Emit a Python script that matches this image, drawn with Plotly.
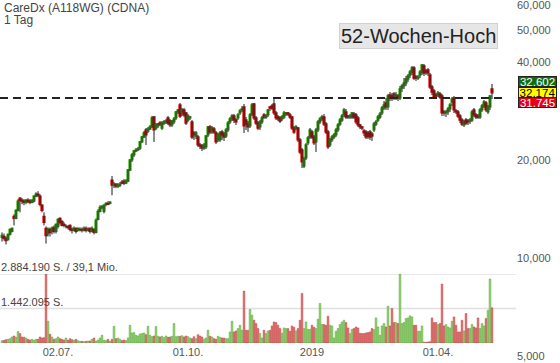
import math
import pandas as pd
import plotly.graph_objects as go

# ---------------- data ----------------
holidays = ['2018-12-24', '2018-12-25', '2018-12-26', '2018-12-31', '2019-01-01',
            '2019-04-19', '2019-04-22', '2019-05-01']

open_ = [11560, 11640, 11480, 11390, 11810, 12060, 13420, 13230, 14010, 15260,
         15040, 14940, 14830, 15040, 14940, 14830, 14940, 15480, 15700, 15480,
         14520, 13420, 12320, 11890, 12240, 12060, 12410, 12060, 12500, 13230,
         12950, 12680, 12500, 12500, 12590, 12240, 12150, 12320, 12150, 12240,
         12240, 12150, 12320, 12150, 12320, 12060, 12240, 11980, 13140, 13910,
         14310, 13910, 14620, 14720, 14720, 17350, 16740, 16860, 16620, 16740,
         17100, 17220, 16980, 17220, 18630, 20000, 20720, 21310, 21470, 21770,
         22720, 23530, 24730, 24550, 24900, 25260, 27110, 25080, 25440, 25980,
         25080, 25980, 26170, 26920, 26350, 25620, 26170, 26920, 28090, 29510,
         28090, 28490, 27890, 26540, 26920, 26170, 24210, 23700, 23530, 22240,
         22080, 21770, 21930, 23870, 25260, 24550, 24900, 24210, 23040, 23040,
         24380, 24040, 23700, 24730, 26170, 26730, 27300, 26540, 26920, 27890,
         28490, 29100, 26540, 25800, 25440, 27690, 29720, 26920, 25980, 25260,
         26170, 27500, 27110, 27500, 29100, 29300, 29720, 27890, 27110, 26920,
         26730, 27110, 27690, 27890, 27500, 27110, 25080, 25080, 25080, 23040,
         21470, 19160, 20290, 22560, 23530, 24380, 23530, 22720, 24730, 26170,
         26730, 27110, 25800, 24380, 22240, 23040, 23530, 23870, 24730, 25800,
         26540, 27500, 28090, 27300, 27110, 27110, 27690, 27500, 26920, 25620,
         25260, 24550, 24380, 24210, 24380, 24040, 24730, 25800, 26540, 27110,
         27890, 28890, 29930, 29100, 31680, 31450, 31900, 31230, 31450, 31010,
         33280, 33760, 34480, 35470, 36490, 37270, 38340, 35980, 35720, 36490,
         37270, 38890, 37540, 37800, 36490, 33520, 32580, 31680, 31680, 31900,
         31450, 28090, 27890, 28090, 28690, 30140, 31010, 28290, 28090, 27300,
         26540, 25620, 26540, 26350, 26350, 26540, 28490, 27500, 27300, 27110,
         28490, 29300, 29930, 28090, 29100, 33050]

high = [11980, 11890, 11640, 11890, 12320, 12410, 13620, 14110, 15150, 15370,
        15260, 15150, 15150, 15260, 15150, 15150, 15590, 15920, 16040, 15700,
        14620, 13810, 12500, 12410, 12410, 12500, 12590, 12770, 13230, 13330,
        13050, 12860, 12680, 12590, 12680, 12410, 12500, 12410, 12410, 12410,
        12410, 12500, 12500, 12410, 12410, 12500, 12320, 13230, 14110, 14520,
        14520, 14620, 14830, 14940, 14940, 17850, 17100, 16980, 16980, 17100,
        17350, 17470, 17470, 18760, 20140, 21020, 21470, 21770, 21930, 22880,
        23700, 24550, 25080, 25260, 25620, 27300, 27300, 25980, 25980, 26350,
        26350, 26540, 26730, 27300, 26730, 26540, 27110, 28290, 28690, 29930,
        28890, 28890, 28090, 27690, 27300, 26540, 24550, 24550, 23870, 22560,
        22400, 22560, 23870, 25440, 25620, 25440, 25260, 24550, 24210, 24550,
        24730, 24380, 25080, 26350, 27110, 27690, 27690, 26920, 27890, 28690,
        29300, 29720, 27110, 26350, 27890, 29930, 29930, 27300, 26350, 26540,
        27300, 27890, 27690, 28690, 29300, 29720, 31010, 28290, 27500, 27300,
        27500, 28290, 28090, 28090, 27890, 27300, 25440, 25620, 25260, 23370,
        21770, 20430, 22560, 23700, 25080, 24730, 23870, 25080, 26540, 27110,
        27500, 27690, 26170, 24730, 23370, 23870, 24210, 25080, 25980, 26920,
        27690, 28890, 28690, 27500, 27690, 28090, 28090, 27890, 27300, 25800,
        25440, 24900, 24730, 24550, 24730, 24380, 26170, 26540, 27500, 28090,
        29300, 30360, 31010, 31900, 32350, 32130, 32350, 32350, 31900, 33760,
        34240, 35720, 36230, 36750, 37800, 38890, 38890, 36490, 36490, 37800,
        39440, 39440, 38070, 38340, 37010, 34000, 33050, 32130, 32580, 32350,
        31900, 28490, 28490, 29100, 29930, 31230, 31450, 28690, 28490, 27690,
        26920, 26540, 26920, 26730, 26920, 28490, 28890, 27890, 27690, 28890,
        29720, 30570, 30360, 29510, 31680, 34240]

low = [11230, 11310, 11000, 11310, 11720, 11980, 12590, 13140, 13910, 13810,
       14620, 14520, 14620, 14720, 14620, 14720, 14830, 15370, 15370, 14410,
       13810, 12590, 11070, 11640, 11640, 11810, 11890, 11890, 12320, 12680,
       12500, 12410, 12320, 12240, 12060, 11890, 12060, 11890, 12060, 12060,
       11980, 12060, 11980, 12060, 11890, 11980, 11810, 11890, 13050, 13810,
       14110, 13710, 14410, 14520, 14620, 15590, 16390, 16390, 16390, 16500,
       16860, 16740, 16860, 17100, 18490, 19720, 20430, 21160, 21310, 21470,
       22560, 23370, 22240, 24210, 24730, 25080, 22720, 24730, 25080, 25440,
       24730, 25620, 25800, 25620, 25260, 25260, 25800, 26540, 27690, 26920,
       27300, 27110, 25620, 26170, 26540, 23200, 23040, 23200, 21930, 21620,
       21310, 21470, 21620, 23530, 24040, 24040, 24040, 22400, 22720, 22720,
       23040, 22880, 23370, 24380, 25800, 26350, 25980, 25620, 26540, 27500,
       28090, 24210, 24730, 24380, 25080, 27300, 26540, 25620, 24730, 24730,
       25800, 26730, 26730, 27110, 28290, 28490, 27500, 26540, 26350, 25980,
       26350, 26730, 27300, 27300, 26730, 24730, 24040, 24730, 22720, 20870,
       18890, 18890, 20000, 22240, 23200, 23200, 22240, 21160, 24380, 25800,
       26350, 25440, 24040, 21620, 21930, 22720, 23200, 23530, 24380, 25440,
       26170, 27110, 26730, 26730, 26730, 26730, 26730, 25800, 25260, 24900,
       24730, 23700, 23200, 23200, 23040, 22880, 24380, 25440, 26170, 26730,
       27500, 28490, 28490, 28490, 30360, 30360, 30570, 30570, 30360, 30570,
       32350, 33050, 33760, 34730, 35720, 36490, 35220, 34970, 35220, 35720,
       36490, 36230, 36490, 36230, 33050, 31680, 30790, 31010, 31230, 30790,
       27300, 27300, 27110, 27500, 28090, 29300, 27890, 27690, 26920, 25980,
       25440, 25260, 25620, 25620, 25800, 26170, 27110, 26730, 26730, 26730,
       28090, 28890, 28090, 27690, 28490, 30790]

close = [11720, 11480, 11310, 11810, 12240, 12320, 13230, 14010, 14940, 15040,
         14940, 14830, 15040, 14940, 14830, 15040, 15480, 15700, 15590, 14620,
         14010, 12860, 11720, 12240, 11980, 12320, 12060, 12680, 13140, 12860,
         12590, 12590, 12500, 12410, 12240, 12150, 12320, 12060, 12320, 12240,
         12150, 12320, 12150, 12240, 12060, 12320, 11980, 13050, 13910, 14310,
         14410, 14520, 14720, 14620, 14830, 16740, 16860, 16620, 16740, 16860,
         16980, 16980, 17220, 18630, 20000, 20720, 21310, 21470, 21620, 22720,
         23530, 24210, 23870, 24900, 25260, 26920, 24730, 25620, 25800, 25800,
         25980, 26170, 26350, 25980, 25620, 26350, 26730, 28090, 28490, 27300,
         28490, 27500, 25980, 27300, 27110, 23530, 23870, 24210, 22240, 22080,
         21770, 22240, 23700, 25260, 24380, 25080, 24380, 22720, 23870, 24210,
         23870, 23530, 24730, 25980, 26730, 27300, 26540, 26170, 27500, 28290,
         28690, 25440, 25800, 25260, 27500, 29510, 26920, 25980, 25080, 26170,
         26920, 27110, 27300, 28490, 28890, 28890, 27890, 26920, 26730, 26350,
         27110, 27890, 27890, 27690, 27110, 25080, 24380, 25260, 23040, 21160,
         19720, 20140, 22240, 23370, 24730, 23530, 22560, 24730, 26170, 26730,
         27110, 25800, 24380, 21930, 23040, 23530, 23870, 24730, 25620, 26540,
         27300, 28490, 27110, 27110, 27300, 27890, 27110, 26170, 25620, 25260,
         25080, 24210, 23530, 23700, 23530, 23700, 25800, 26170, 27110, 27690,
         28890, 29510, 29100, 31450, 31010, 31230, 31230, 31680, 31010, 33050,
         33760, 34480, 35470, 36230, 37270, 38340, 35720, 35720, 35980, 37270,
         39160, 37010, 37270, 37010, 33520, 32350, 31230, 31450, 32130, 31230,
         27890, 27890, 28090, 28690, 29510, 30790, 28490, 28090, 27300, 26540,
         25800, 26170, 25980, 26170, 26540, 28090, 27500, 27110, 27110, 28490,
         29300, 30140, 28490, 29100, 31450, 32174]

# volume in thousand shares
volume_k = [98, 112, 140, 154, 182, 252, 294, 238, 476, 392,
            252, 238, 210, 154, 126, 154, 112, 154, 154, 252,
            210, 224, 2884.19, 910, 364, 252, 154, 182, 252, 182,
            154, 126, 210, 112, 182, 140, 112, 154, 98, 70,
            70, 56, 70, 84, 84, 154, 210, 70, 126, 210,
            322, 112, 98, 154, 70, 154, 700, 182, 210, 154,
            98, 126, 98, 210, 742, 420, 434, 322, 294, 378,
            392, 420, 350, 700, 322, 266, 294, 686, 280, 252,
            280, 224, 294, 238, 252, 280, 812, 266, 280, 280,
            308, 252, 294, 266, 210, 182, 266, 182, 350, 294,
            252, 154, 210, 532, 280, 252, 182, 154, 280, 238,
            210, 210, 182, 182, 462, 910, 462, 504, 602, 742,
            532, 2170, 532, 532, 1400, 1162, 952, 812, 602, 392,
            210, 532, 392, 504, 532, 714, 882, 854, 742, 602,
            406, 630, 602, 602, 490, 714, 658, 504, 602, 952,
            2072, 602, 882, 574, 574, 742, 658, 602, 994, 1652,
            770, 770, 742, 1120, 742, 714, 210, 490, 602, 770,
            882, 952, 854, 630, 392, 574, 602, 672, 630, 406,
            392, 392, 420, 434, 462, 602, 560, 1050, 672, 322,
            714, 812, 672, 1540, 714, 1442, 854, 854, 812, 2884.19,
            812, 854, 1022, 1050, 1134, 1092, 742, 742, 490, 490,
            714, 42, 28, 42, 56, 1050, 854, 854, 770, 812,
            2464, 714, 770, 672, 630, 910, 1092, 742, 462, 462,
            952, 504, 1232, 602, 602, 770, 672, 630, 1050, 602,
            812, 714, 1022, 1372, 2674, 1470]

tick_dates = ['2018-07-02', '2018-10-01', '2019-01-02', '2019-04-01']
tick_text = ['02.07.', '01.10.', '2019', '01.04.']
price_ticks = [5000, 10000, 20000, 40000, 50000, 60000]
price_tick_text = ['5,000', '10,000', '20,000', '40,000', '50,000', '60,000']
ref_line = 31009
vol_max_k = 2884.19
quote_labels = ['32,602', '32,174', '31,745']

# ---------------- trading-day categories ----------------
n = len(close)
days = [d.strftime('%Y-%m-%d') for d in pd.bdate_range('2018-05-23', '2019-06-30')]
dates = [d for d in days if d not in holidays][:n]

GREEN = '#3cb416'
RED = '#e40c0c'
FONT = 'Liberation Sans, Arial, sans-serif'

fig = go.Figure()

# volume bars
up = [c >= o for o, c in zip(open_, close)]
fig.add_trace(go.Bar(
    x=dates, y=volume_k, yaxis='y2',
    marker=dict(color=['#8fd86c' if u else '#ea6d6d' for u in up],
                line=dict(color=['#5a9e3c' if u else '#b84545' for u in up], width=0.5)),
    hoverinfo='skip'))

# wicks (black)
wx, wy = [], []
for d, h, l in zip(dates, high, low):
    wx += [d, d, None]
    wy += [l, h, None]
fig.add_trace(go.Scatter(x=wx, y=wy, mode='lines', line=dict(color='#1a1a1a', width=1),
                         hoverinfo='skip', connectgaps=False))

# candle bodies
fig.add_trace(go.Candlestick(
    x=dates, open=open_, close=close,
    high=[max(o, c) for o, c in zip(open_, close)],
    low=[min(o, c) for o, c in zip(open_, close)],
    increasing=dict(fillcolor=GREEN, line=dict(color=GREEN, width=1.3)),
    decreasing=dict(fillcolor=RED, line=dict(color=RED, width=1.3)),
    whiskerwidth=0, hoverinfo='skip'))

W, H = 516.0, 363.0
def px(x):
    return x / W
def py(y):
    return 1 - y / H

shapes = [
    dict(type='line', xref='paper', yref='y2', x0=0, x1=1, y0=vol_max_k, y1=vol_max_k,
         line=dict(color='#e0e0e0', width=1.5), layer='below'),
    dict(type='line', xref='paper', yref='y2', x0=0, x1=1, y0=vol_max_k / 2, y1=vol_max_k / 2,
         line=dict(color='#e0e0e0', width=1.5), layer='below'),
    dict(type='line', xref='paper', yref='y', x0=0, x1=px(503),
         y0=ref_line, y1=ref_line,
         line=dict(color='#222222', width=2, dash='8px,5px')),
]

annotations = [
    dict(text='CareDx (A118WG) (CDNA)', xref='paper', yref='paper', x=px(3), y=py(8),
         xanchor='left', yanchor='middle', showarrow=False, borderpad=0,
         font=dict(family=FONT, size=12, color='#444444')),
    dict(text='1 Tag', xref='paper', yref='paper', x=px(3), y=py(19.5),
         xanchor='left', yanchor='middle', showarrow=False, borderpad=0,
         font=dict(family=FONT, size=12, color='#444444')),
    dict(text='52-Wochen-Hoch', xref='paper', yref='paper', x=px(418.5), y=py(36),
         xanchor='center', yanchor='middle', showarrow=False,
         font=dict(family=FONT, size=20, color='#222222'),
         bgcolor='#e6e6e6', bordercolor='#d2d2d2', borderwidth=1, borderpad=1),
    dict(text='2.884.190 S. / 39,1 Mio.', xref='paper', yref='y2', x=0, y=vol_max_k,
         xanchor='left', yanchor='bottom', showarrow=False, borderpad=0,
         font=dict(family=FONT, size=11, color='#444444')),
    dict(text='1.442.095 S.', xref='paper', yref='y2', x=0, y=vol_max_k / 2,
         xanchor='left', yanchor='bottom', showarrow=False, borderpad=0,
         font=dict(family=FONT, size=11, color='#444444')),
]
for txt, yc, bg, fc in zip(quote_labels, [81, 92, 103],
                           ['#0e6e0e', '#ffff00', '#e2001a'],
                           ['#ffffff', '#000000', '#ffffff']):
    annotations.append(dict(text=txt, xref='paper', yref='paper', x=px(537.5), y=py(yc),
                            xanchor='center', yanchor='middle', showarrow=False,
                            width=37, height=9, borderpad=0, borderwidth=1,
                            bordercolor='#222222', bgcolor=bg,
                            font=dict(family=FONT, size=11.5, color=fc)))

fig.update_layout(
    width=560, height=363,
    margin=dict(l=0, r=44, t=0, b=0),
    paper_bgcolor='white', plot_bgcolor='rgba(0,0,0,0)',
    showlegend=False, hovermode=False,
    bargap=0.15, boxgap=0, boxgroupgap=0,
    xaxis=dict(type='category', range=[-1, 257], rangeslider=dict(visible=False),
               showgrid=False, zeroline=False, showline=False, ticks='',
               tickmode='array', tickvals=tick_dates, ticktext=tick_text,
               ticklabelposition='outside', ticklabelstandoff=-19,
               ticklabeloverflow='allow',
               tickfont=dict(family=FONT, size=11, color='#555555')),
    yaxis=dict(type='log', domain=[0, 1],
               range=[math.log10(4756), math.log10(62020)],
               side='right', tickmode='array', tickvals=price_ticks, ticktext=price_tick_text,
               ticklabeloverflow='allow',
               showgrid=False, zeroline=False, showline=False, ticks='',
               tickfont=dict(family=FONT, size=11, color='#555555')),
    yaxis2=dict(domain=[20 / H, 89 / H], range=[0, vol_max_k], anchor='x',
                showgrid=False, zeroline=False, showline=False, showticklabels=False, ticks=''),
    shapes=shapes, annotations=annotations,
)

fig.write_html('out.html', config={'displayModeBar': False},
               post_script="document.body.style.margin='0';document.body.style.overflow='hidden';")
